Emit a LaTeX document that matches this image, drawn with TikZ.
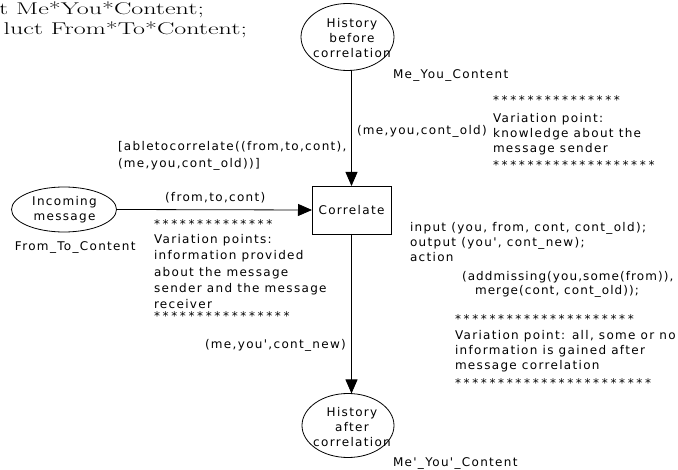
\documentclass[tikz,border=0pt]{standalone}
\usepackage{fontspec}
\usetikzlibrary{shapes.geometric,arrows.meta}
\newfontfamily\diagfont[LetterSpace=11]{DejaVu Sans}
\newfontfamily\tightfont[LetterSpace=9]{DejaVu Sans}
\newfontfamily\starfont[LetterSpace=22]{DejaVu Sans}
\newcommand\starrow[1]{{\starfont\fontsize{12}{15}\selectfont #1}}
\tikzset{
  every node/.style={inner sep=0pt, outer sep=0pt},
  sans/.style={font=\diagfont\fontsize{12}{15}\selectfont},
  lbl/.style={sans, anchor=base west, align=left},
  widelbl/.style={lbl, font=\diagfont\fontsize{12}{16.4}\selectfont},
  decl/.style={anchor=base east, font=\fontsize{17}{20}\selectfont},
  hist/.style={draw, ellipse, line width=0.8pt},
  proc/.style={draw, rectangle, line width=0.8pt, minimum width=79pt, minimum height=48pt, sans},
  flow/.style={line width=0.8pt, -{Triangle[length=14pt,width=12pt]}}
}
\begin{document}
\begin{tikzpicture}[x=1pt,y=-1pt]
  \useasboundingbox (0,0) rectangle (678,470);
  \clip (0,0) rectangle (678,470);

  % colour-set declarations at the top left
  \node[decl] (declA) at (204,15) {\scalebox{1.53}[1]{t Me*You*Content;}};
  \node[decl] (declB) at (247,35) {\scalebox{1.53}[1]{luct From*To*Content;}};

  % places and the transition
  \node[hist, minimum width=93pt, minimum height=67pt] (hb) at (347.5,37) {};
  \node[sans, align=center] (hbtext) at (352,38) {History\\before\\correlation};

  \node[hist, minimum width=105pt, minimum height=45pt] (inc) at (64,209.5) {};
  \node[sans, align=center] (inctext) at (64.5,209.5) {Incoming\\message};

  \node[proc] (box) at (351.5,210) {Correlate};

  \node[hist, minimum width=92pt, minimum height=64pt] (ha) at (348,425.5) {};
  \node[sans, align=center] (hatext) at (352,427) {History\\after\\correlation};

  % arcs
  \draw[flow] (hb.south -| box.north) -- (box.north);
  \draw[flow] (inc.east) -- (box.west);
  \draw[flow] (box.south) -- (box.south |- ha.north);

  % colour sets of the places
  \node[lbl] (mycs) at (393,79) {Me\_You\_Content};
  \node[lbl] (ftcs) at (15,251) {From\_To\_Content};
  \node[lbl] (mycs2) at (393,467) {Me'\_You'\_Content};

  % arc inscriptions and guard (multi-line nodes sit on their last baseline)
  \node[lbl] (arcold) at (357,135) {(me,you,cont\_old)};
  \node[lbl] (arcin) at (165,202) {(from,to,cont)};
  \node[lbl] (arcnew) at (205,349) {(me,you',cont\_new)};
  \node[lbl, font=\diagfont\fontsize{12}{17}\selectfont] (guard) at (118,168)
    {[abletocorrelate((from,to,cont),\\(me,you,cont\_old))]};

  % code segment of the transition
  \node[lbl] (code) at (410,262)
    {input (you, from, cont, cont\_old);\\output (you', cont\_new);\\action};
  \node[lbl, font=\tightfont\fontsize{12}{13.5}\selectfont] (act) at (462,294.5)
    {(addmissing(you,some(from)),\\\hspace*{13pt}merge(cont, cont\_old));};

  % variation points
  \node[lbl] (vpsender) at (493,169.5)
    {\starrow{***************}\\[3.5pt]Variation point:\\knowledge about the\\message sender\\[1.5pt]\starrow{*******************}};
  \node[widelbl] (vpmsg) at (154,321)
    {\starrow{**************}\\[-1.9pt]Variation points:\\information provided\\about the message\\sender and the message\\receiver\\[-4.4pt]\starrow{****************}};
  \node[lbl] (vpgain) at (455,388)
    {\starrow{*********************}\\[1pt]Variation point: all, some or no\\information is gained after\\message correlation\\[3pt]\starrow{***********************}};
\end{tikzpicture}
\end{document}
